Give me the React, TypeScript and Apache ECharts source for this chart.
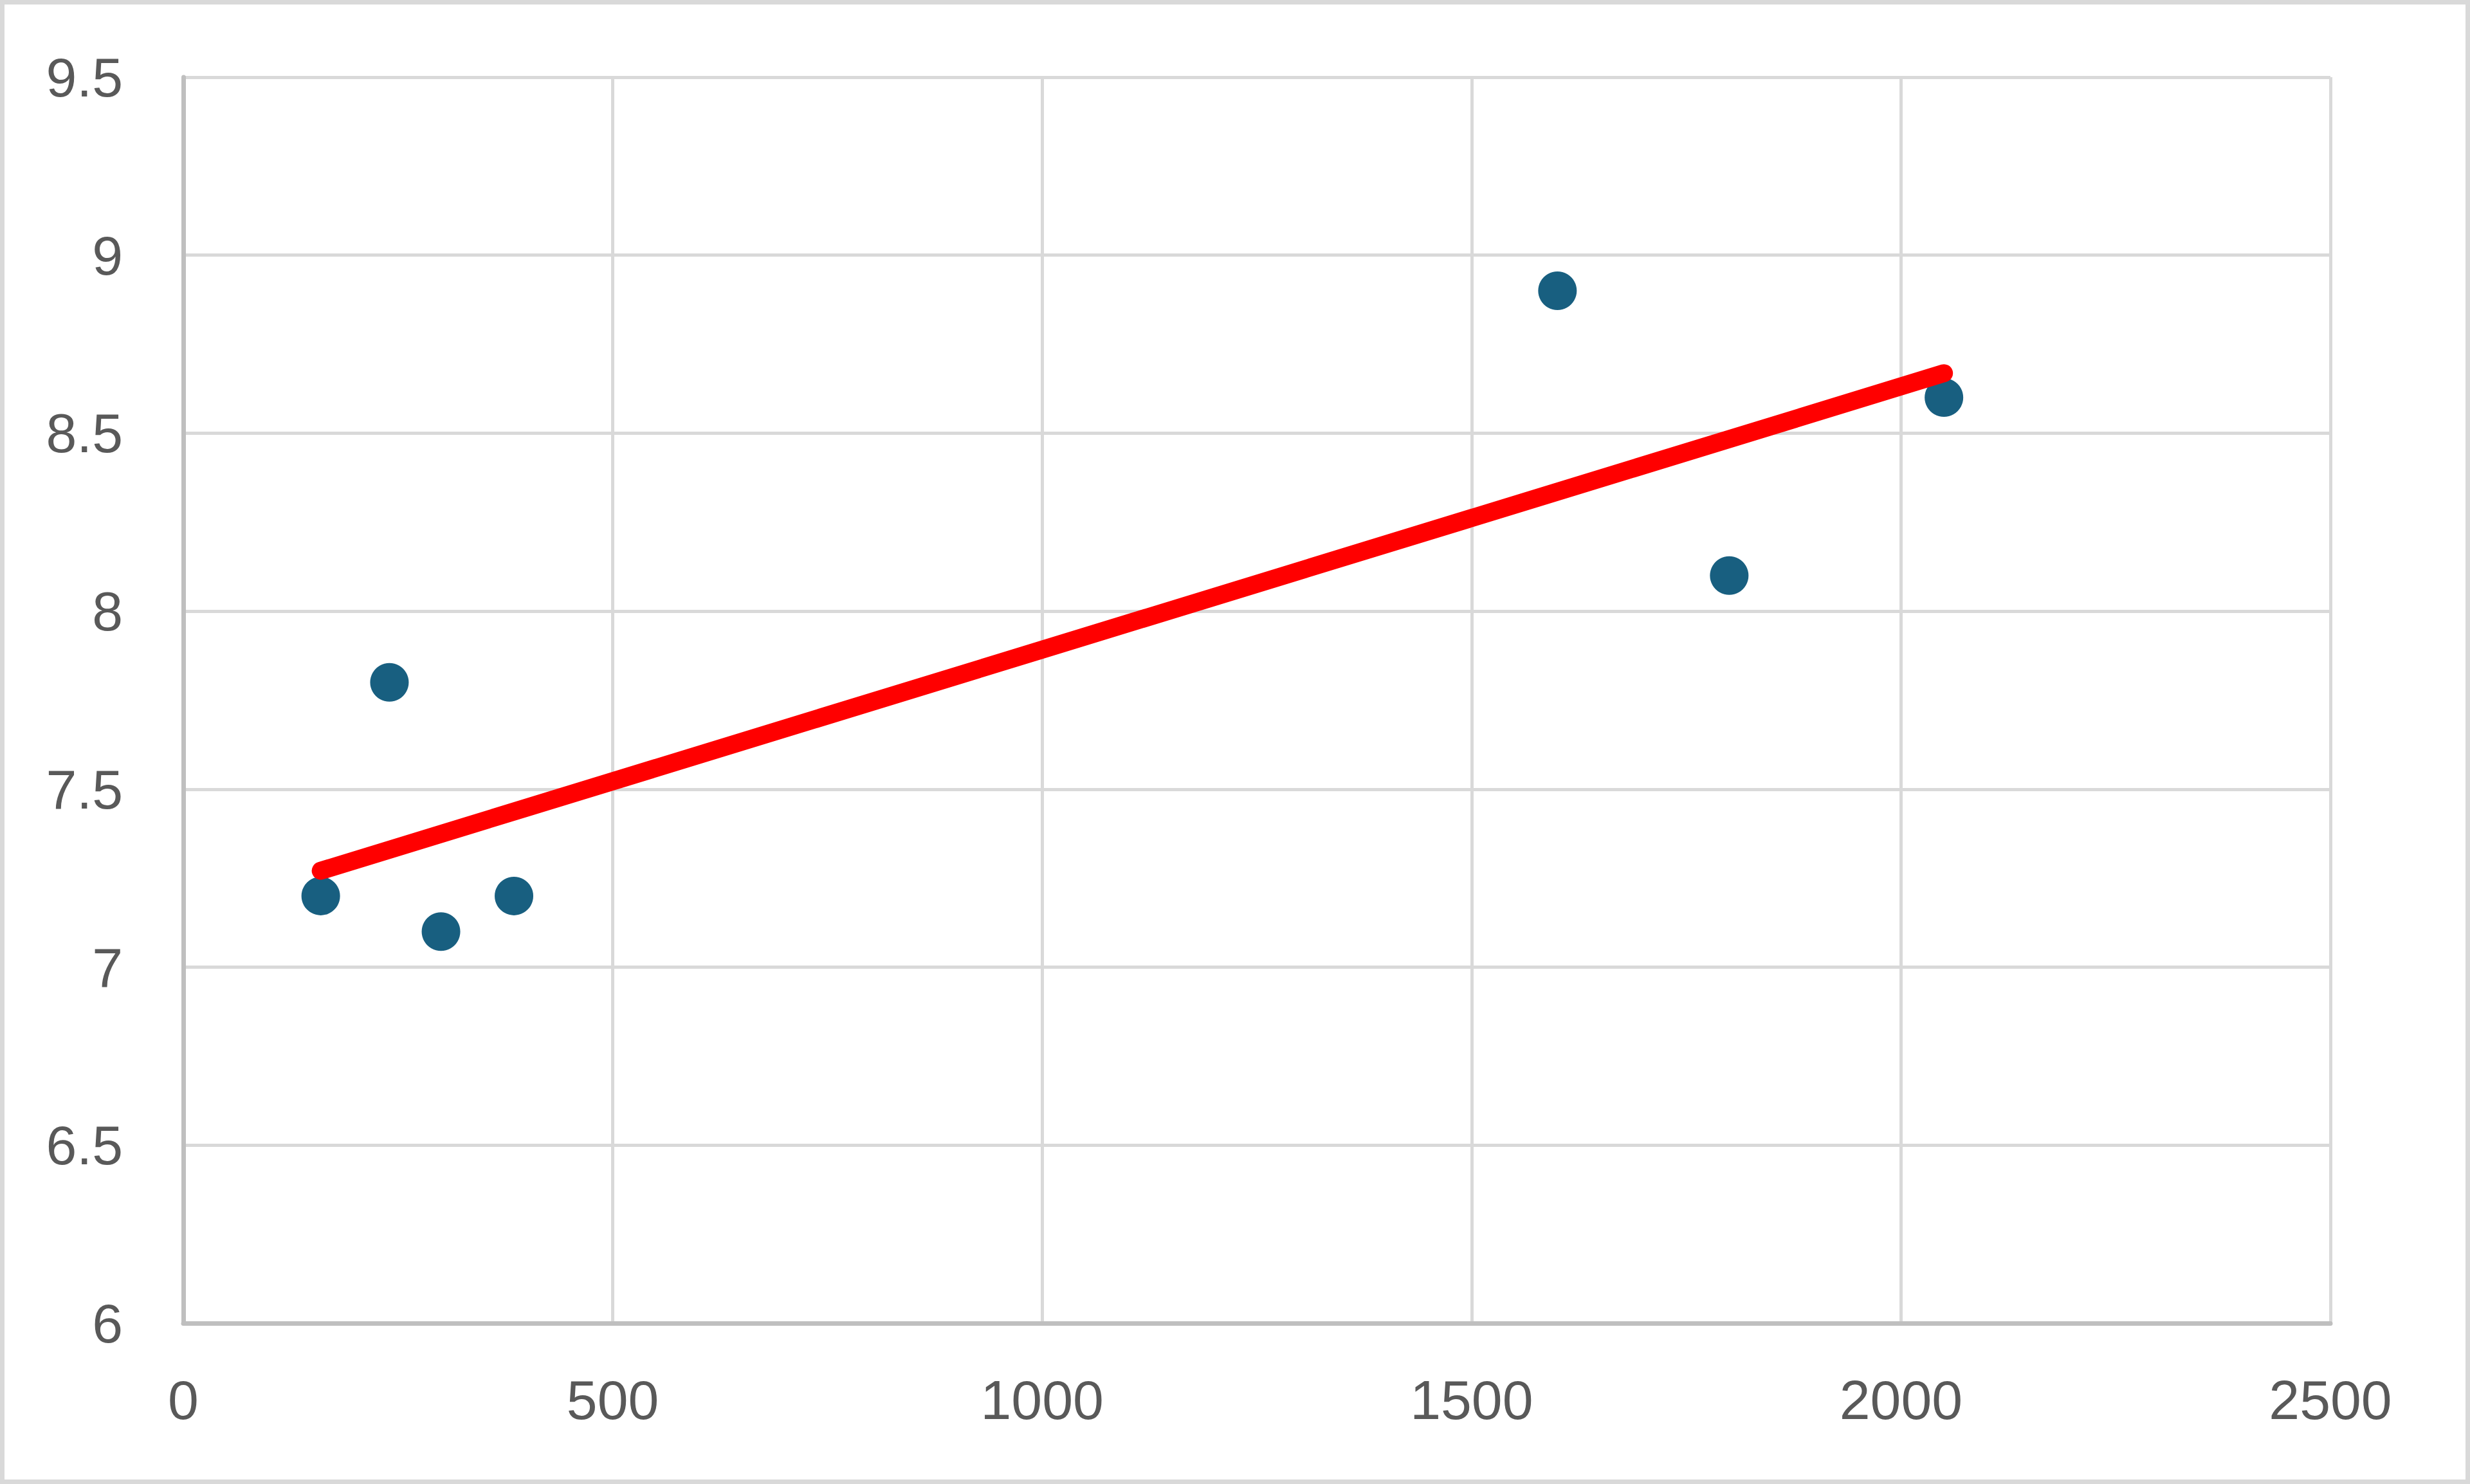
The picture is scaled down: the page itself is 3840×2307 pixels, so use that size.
import React, { useEffect, useRef } from "react";
import * as echarts from "echarts";

const xValues: number[] = [160, 240, 300, 385, 1600, 1800, 2050];
const yValues: number[] = [7.2, 7.8, 7.1, 7.2, 8.9, 8.1, 8.6];
const xTicks = { min: 0, max: 2500, interval: 500 };
const yTicks = { min: 6, max: 9.5, interval: 0.5 };

function linearFit(xs: number[], ys: number[]) {
  const n = xs.length;
  const mx = xs.reduce((a, b) => a + b, 0) / n;
  const my = ys.reduce((a, b) => a + b, 0) / n;
  let sxy = 0;
  let sxx = 0;
  for (let i = 0; i < n; i++) {
    sxy += (xs[i] - mx) * (ys[i] - my);
    sxx += (xs[i] - mx) * (xs[i] - mx);
  }
  const slope = sxy / sxx;
  return { slope, intercept: my - slope * mx };
}

export default function App() {
  const ref = useRef<HTMLDivElement>(null);
  useEffect(() => {
    if (!ref.current) return;
    const chart = echarts.init(ref.current, undefined, { renderer: "svg" });
    const fit = linearFit(xValues, yValues);
    const xMin = Math.min(...xValues);
    const xMax = Math.max(...xValues);
    const trend = [
      [xMin, fit.intercept + fit.slope * xMin],
      [xMax, fit.intercept + fit.slope * xMax],
    ];
    const labelStyle = {
      color: "#595959",
      fontSize: 86,
      fontFamily: "Liberation Sans, Arial, sans-serif",
      formatter: (v: number) => String(v),
    };
    chart.setOption({
      animation: false,
      backgroundColor: "#ffffff",
      graphic: [
        {
          type: "rect",
          shape: { x: 3.5, y: 3.5, width: 3833, height: 2300 },
          style: { fill: "none", stroke: "#d9d9d9", lineWidth: 7 },
          silent: true,
        },
      ],
      grid: { left: 285, top: 120, right: 217, bottom: 250, containLabel: false },
      xAxis: {
        type: "value",
        min: xTicks.min,
        max: xTicks.max,
        interval: xTicks.interval,
        axisLine: { show: true, lineStyle: { color: "#bfbfbf", width: 7 } },
        axisTick: { show: false },
        splitLine: { show: true, lineStyle: { color: "#d9d9d9", width: 5 } },
        axisLabel: { ...labelStyle, margin: 76 },
      },
      yAxis: {
        type: "value",
        min: yTicks.min,
        max: yTicks.max,
        interval: yTicks.interval,
        axisLine: { show: true, lineStyle: { color: "#bfbfbf", width: 7 } },
        axisTick: { show: false },
        splitLine: { show: true, lineStyle: { color: "#d9d9d9", width: 5 } },
        axisLabel: { ...labelStyle, margin: 94 },
      },
      series: [
        {
          type: "scatter",
          data: xValues.map((x, i) => [x, yValues[i]]),
          symbol: "circle",
          symbolSize: 60,
          itemStyle: { color: "#185f80", opacity: 1 },
          z: 2,
        },
        {
          type: "line",
          data: trend,
          symbol: "none",
          lineStyle: { color: "#ff0000", width: 28, cap: "round" },
          z: 3,
        },
      ],
    });
    return () => chart.dispose();
  }, []);
  return (
    <div
      ref={ref}
      style={{ position: "fixed", left: 0, top: 0, width: 3840, height: 2307 }}
    />
  );
}
